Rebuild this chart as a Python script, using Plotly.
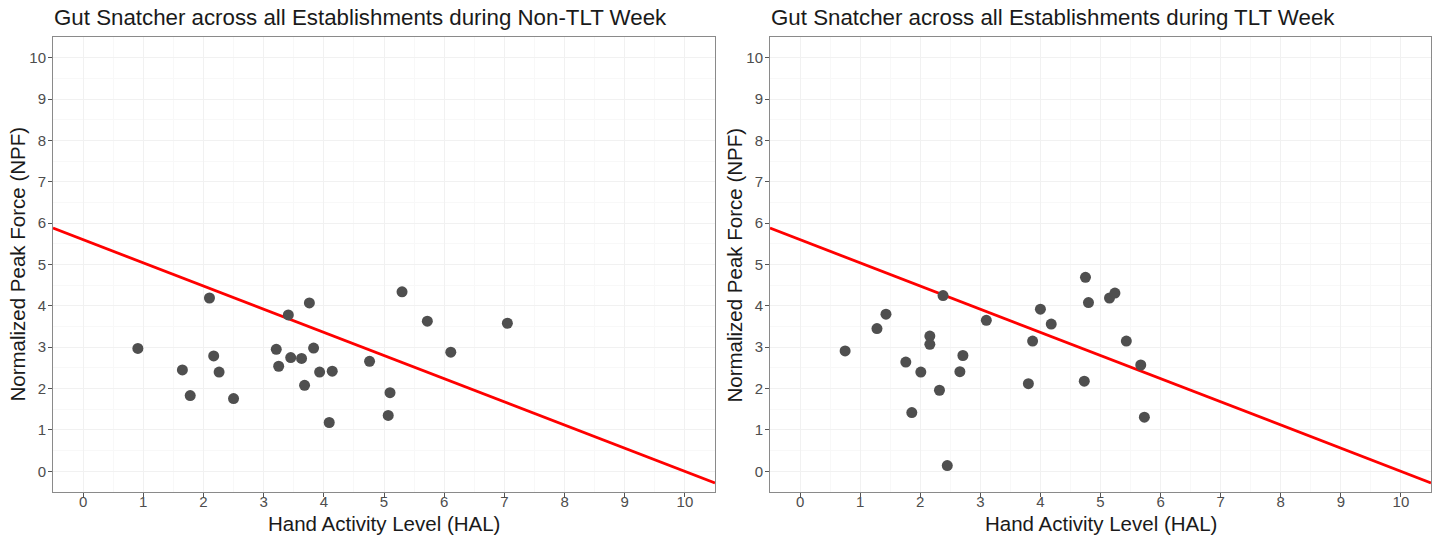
import plotly.graph_objects as go

# ---- data ----
non_tlt_hal = [0.91, 1.65, 1.78, 2.10, 2.17, 2.26, 2.50, 3.21, 3.25, 3.41, 3.45, 3.63, 3.68,
               3.76, 3.83, 3.93, 4.14, 4.09, 4.76, 5.10, 5.07, 5.30, 5.72, 6.11, 7.05]
non_tlt_npf = [2.97, 2.45, 1.83, 4.19, 2.79, 2.40, 1.76, 2.95, 2.54, 3.78, 2.75, 2.73, 2.08,
               4.07, 2.98, 2.40, 2.42, 1.18, 2.66, 1.90, 1.35, 4.34, 3.63, 2.88, 3.58]

tlt_hal = [0.75, 1.28, 1.43, 2.38, 2.16, 2.16, 1.76, 2.01, 2.32, 1.86, 2.45, 2.71, 2.66,
           3.10, 3.87, 4.00, 4.18, 3.80, 4.75, 4.80, 4.73, 5.15, 5.24, 5.43, 5.67, 5.73]
tlt_npf = [2.91, 3.45, 3.80, 4.25, 3.27, 3.07, 2.64, 2.40, 1.96, 1.42, 0.14, 2.80, 2.41,
           3.65, 3.15, 3.92, 3.56, 2.12, 4.69, 4.08, 2.18, 4.19, 4.31, 3.15, 2.57, 1.31]

# TLV reference line end points
tlv_hal = [-0.5, 10.5]
tlv_npf = [5.88, -0.28]

tick_vals = list(range(0, 11))
tick_text = [str(v) for v in tick_vals]

titles = ["Gut Snatcher across all Establishments during Non-TLT Week",
          "Gut Snatcher across all Establishments during TLT Week"]
x_title = "Hand Activity Level (HAL)"
y_title = "Normalized Peak Force (NPF)"

W, H = 1437, 537
panels = [(53, 715), (770, 1431)]
top, bottom = 37, 492

fig = go.Figure()
datasets = [(non_tlt_hal, non_tlt_npf), (tlt_hal, tlt_npf)]
for i, (hx, hy) in enumerate(datasets):
    ax = "" if i == 0 else "2"
    fig.add_trace(go.Scatter(x=tlv_hal, y=tlv_npf, mode="lines",
                             line=dict(color="#ff0000", width=2.8),
                             xaxis="x" + ax, yaxis="y" + ax, showlegend=False,
                             hoverinfo="skip"))
    fig.add_trace(go.Scatter(x=hx, y=hy, mode="markers",
                             marker=dict(color="#4f4f4f", size=11,
                                         line=dict(width=0)),
                             xaxis="x" + ax, yaxis="y" + ax, showlegend=False))

axis_common = dict(range=[-0.5, 10.5], tickmode="array", tickvals=tick_vals,
                   ticktext=tick_text, ticks="outside", ticklen=4, tickwidth=1,
                   tickcolor="#555555", showline=True, mirror=True,
                   linecolor="#8a8a8a", linewidth=1,
                   showgrid=True, gridcolor="#f1f1f1", gridwidth=1,
                   minor=dict(showgrid=True, gridcolor="#f8f8f8", gridwidth=0.6,
                              tickmode="array",
                              tickvals=[v + 0.5 for v in range(-1, 11)]),
                   zeroline=False,
                   tickfont=dict(family="Liberation Sans, Arial", size=15,
                                 color="#4d4d4d"))

layout = dict(width=W, height=H, margin=dict(l=0, r=0, t=0, b=0),
              paper_bgcolor="white", plot_bgcolor="white", showlegend=False)
ydom = [1 - bottom / H, 1 - top / H]
for i, (l, r) in enumerate(panels):
    suf = "" if i == 0 else "2"
    layout["xaxis" + suf] = dict(axis_common, domain=[l / W, r / W],
                                 anchor="y" + suf, ticklabelstandoff=-8)
    layout["yaxis" + suf] = dict(axis_common, domain=ydom, anchor="x" + suf,
                                 ticklabelstandoff=-1)
fig.update_layout(**layout)

font_main = "Liberation Sans, Arial"
for i, (l, r) in enumerate(panels):
    fig.add_annotation(text=titles[i], xref="paper", yref="paper",
                       x=(l - 1) / W, y=1 - 18 / H, xanchor="left", yanchor="middle",
                       showarrow=False,
                       font=dict(family=font_main, size=22.3, color="#1a1a1a"))
    fig.add_annotation(text=x_title, xref="paper", yref="paper",
                       x=(l + r) / 2 / W, y=1 - 523 / H, xanchor="center",
                       yanchor="middle", showarrow=False,
                       font=dict(family=font_main, size=20.5, color="#1a1a1a"))
    fig.add_annotation(text=y_title, xref="paper", yref="paper",
                       x=(l - 36) / W, y=1 - (top + bottom) / 2 / H,
                       xanchor="center", yanchor="middle", textangle=-90,
                       showarrow=False,
                       font=dict(family=font_main, size=20.5, color="#1a1a1a"))

fig.write_html("out.html")
